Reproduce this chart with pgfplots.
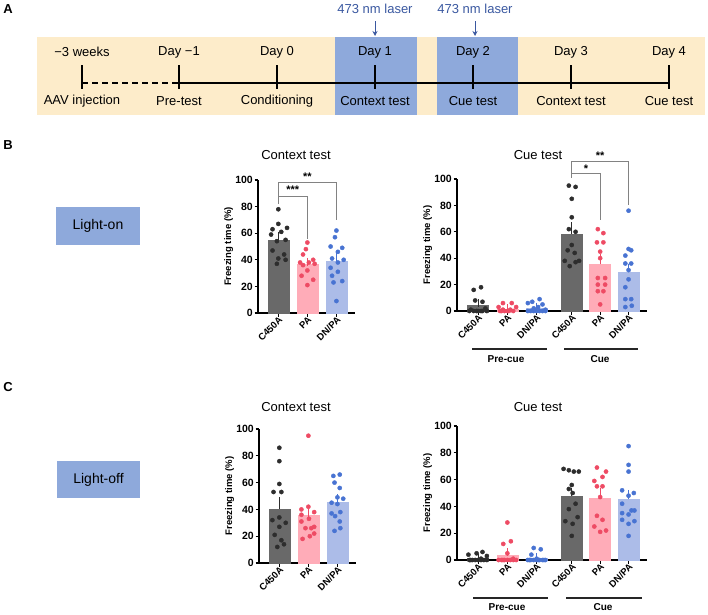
\documentclass[border=0pt]{standalone}
\usepackage{fontspec}
\setmainfont{Liberation Sans}
\usepackage{pgfplots}
\pgfplotsset{compat=1.18}
\usetikzlibrary{arrows.meta}
\definecolor{gbar}{RGB}{105,105,105}
\definecolor{gpt}{RGB}{45,45,45}
\definecolor{pbar}{RGB}{255,172,184}
\definecolor{ppt}{RGB}{238,75,100}
\definecolor{bbar}{RGB}{172,188,232}
\definecolor{bpt}{RGB}{72,115,210}
\definecolor{boxblue}{RGB}{142,169,219}
\definecolor{beige}{RGB}{253,236,202}
\definecolor{laser}{RGB}{58,88,160}
\definecolor{brk}{RGB}{130,130,130}
\pgfplotsset{
 frz/.style={
  scale only axis, anchor=south west,
  axis lines=left, axis line style={-, line width=1.2pt, black},
  ymin=0, ymax=100, ytick={0,20,40,60,80,100},
  tick style={black, line width=1.1pt}, major tick length=3.5pt, tick align=outside,
  yticklabel style={font=\bfseries\fontsize{10.5}{11}\selectfont, inner sep=1.5pt},
  xticklabel style={font=\bfseries\fontsize{9.5}{10}\selectfont, rotate=45, anchor=east, inner sep=0.5pt, yshift=-3pt, xshift=1pt},
  ylabel={Freezing time (\%)},
  ylabel style={font=\bfseries\fontsize{9.5}{10}\selectfont, yshift=-3pt},
  /pgf/number format/assume math mode=true,
  clip=false,
 },
 gb/.style={ybar, bar width=21pt, bar shift=0pt, fill=gbar, draw=gbar,
   error bars/.cd, y dir=plus, y explicit, error bar style={draw=gpt, line width=1pt}, error mark options={draw=gpt, mark size=4pt, line width=1pt}},
 pb/.style={ybar, bar width=21pt, bar shift=0pt, fill=pbar, draw=pbar,
   error bars/.cd, y dir=plus, y explicit, error bar style={draw=ppt, line width=1pt}, error mark options={draw=ppt, mark size=4pt, line width=1pt}},
 bb/.style={ybar, bar width=21pt, bar shift=0pt, fill=bbar, draw=bbar,
   error bars/.cd, y dir=plus, y explicit, error bar style={draw=bpt, line width=1pt}, error mark options={draw=bpt, mark size=4pt, line width=1pt}},
 gp/.style={only marks, mark=*, mark size=2.1pt, color=gpt},
 pp/.style={only marks, mark=*, mark size=2.1pt, color=ppt},
 bp/.style={only marks, mark=*, mark size=2.1pt, color=bpt},
}
\begin{document}
\begin{tikzpicture}
\path[use as bounding box] (0pt,0pt) rectangle (708pt,-614pt);
% ---------- Panel A timeline ----------
\node[font=\bfseries\fontsize{13}{13}\selectfont] at (8pt,-9pt) {A};
\fill[beige] (37pt,-37pt) rectangle (705pt,-115pt);
\fill[boxblue] (335pt,-37pt) rectangle (417pt,-115pt);
\fill[boxblue] (437pt,-37pt) rectangle (518pt,-115pt);
\draw[line width=1.2pt, dash pattern=on 6pt off 4pt] (82pt,-83pt) -- (179pt,-83pt);
\draw[line width=1.2pt] (179pt,-83pt) -- (669pt,-83pt);
\foreach \x in {82,179,277,375,473,571,669} \draw[line width=1.3pt] (\x pt,-65pt) -- (\x pt,-89pt);
\begin{scope}[every node/.style={font=\fontsize{13}{15}\selectfont}]
\node at (82pt,-52pt) {−3 weeks};
\node at (179pt,-52pt) {Day −1};
\node at (277pt,-52pt) {Day 0};
\node at (375pt,-52pt) {Day 1};
\node at (473pt,-52pt) {Day 2};
\node at (571pt,-52pt) {Day 3};
\node at (669pt,-52pt) {Day 4};
\node at (82pt,-101pt) {AAV injection};
\node at (179pt,-101pt) {Pre-test};
\node at (277pt,-101pt) {Conditioning};
\node at (375pt,-101pt) {Context test};
\node at (473pt,-101pt) {Cue test};
\node at (571pt,-101pt) {Context test};
\node at (669pt,-101pt) {Cue test};
\node[text=laser] at (375pt,-9pt) {473 nm laser};
\node[text=laser] at (475pt,-9pt) {473 nm laser};
\end{scope}
\draw[laser, line width=0.9pt, -{Stealth[length=5pt,width=5pt]}] (375pt,-21pt) -- (375pt,-36pt);
\draw[laser, line width=0.9pt, -{Stealth[length=5pt,width=5pt]}] (475pt,-21pt) -- (475pt,-36pt);
% ---------- Row labels ----------
\node[font=\bfseries\fontsize{13}{13}\selectfont] at (8pt,-145pt) {B};
\node[font=\bfseries\fontsize{13}{13}\selectfont] at (8pt,-387pt) {C};
\fill[boxblue] (56pt,-207pt) rectangle (140pt,-245pt);
\node[font=\fontsize{14}{16}\selectfont] at (98pt,-226pt) {Light-on};
\fill[boxblue] (57pt,-461pt) rectangle (140pt,-498pt);
\node[font=\fontsize{14}{16}\selectfont] at (98.5pt,-479.5pt) {Light-off};
% titles
\begin{scope}[every node/.style={font=\fontsize{13}{15}\selectfont}]
\node at (296pt,-155pt) {Context test};
\node at (538pt,-155pt) {Cue test};
\node at (296pt,-407pt) {Context test};
\node at (538pt,-407pt) {Cue test};
\end{scope}
% ---------- B context ----------
\begin{axis}[frz, at={(258pt,-313pt)}, width=97pt, height=133pt, xmin=-0.7, xmax=2.64,
  xtick={0,1,2}, xticklabels={C450A,PA,DN/PA}]
\addplot[gb] coordinates {(0,54.7) +- (0,3)};
\addplot[pb] coordinates {(1,36.5) +- (0,2)};
\addplot[bb] coordinates {(2,39) +- (0,3)};
\addplot[gp] coordinates {(0,78) (0,67) (0.3,64) (-0.2,63) (0.1,61) (-0.25,59) (0.25,55) (-0.05,54) (-0.2,47) (0.2,44) (0,41) (0.25,40) (-0.05,37)};
\addplot[pp] coordinates {(1,53) (0.95,48) (0.85,44) (1.2,40) (0.75,38) (1.05,38) (1.25,37) (0.85,36) (1,32) (0.8,28) (1.2,25) (1,21)};
\addplot[bp] coordinates {(2,62) (1.95,57) (1.8,50) (2.2,49) (2.05,46) (1.85,41) (2.25,40) (2.05,38) (1.8,34) (2.05,31) (1.85,28) (2.2,24) (1.9,23) (2,9)};
\draw[brk, line width=0.9pt] (axis cs:0,82) -- (axis cs:0,98) -- (axis cs:2,98) -- (axis cs:2,70);
\draw[brk, line width=0.9pt] (axis cs:0,88) -- (axis cs:1,88) -- (axis cs:1,56);
\node[anchor=base, font=\bfseries\fontsize{11}{11}\selectfont, inner sep=0pt] at (axis cs:0.5,89.5) {***};
\node[anchor=base, font=\bfseries\fontsize{11}{11}\selectfont, inner sep=0pt] at (axis cs:1,99.5) {**};
\end{axis}
% ---------- B cue ----------
\begin{axis}[frz, at={(457pt,-311pt)}, width=190pt, height=132pt, xmin=0.28, xmax=6.77,
  xtick={1,2,3,4.2,5.17,6.14}, xticklabels={C450A,PA,DN/PA,C450A,PA,DN/PA}]
\addplot[gb] coordinates {(1,4.3) +- (0,1.8)};
\addplot[pb] coordinates {(2,1.2) +- (0,0.8)};
\addplot[bb] coordinates {(3,2.4) +- (0,1)};
\addplot[gb] coordinates {(4.2,58.3) +- (0,6)};
\addplot[pb] coordinates {(5.17,35.4) +- (0,4.5)};
\addplot[bb] coordinates {(6.14,29.3) +- (0,3.5)};
\addplot[gp] coordinates {(1.1,18) (0.85,16) (0.9,8) (1.15,7) (1.25,2) (0.75,1) (0.7,0) (0.85,0) (1,0) (1.15,0) (1.3,0) (0.95,0) (1.1,0)};
\addplot[pp] coordinates {(1.85,6) (2.15,6) (1.7,3) (2.3,3) (1.75,0) (1.9,0) (2.05,0) (2.2,0) (1.85,1) (2.1,1) (2,0) (1.8,0)};
\addplot[bp] coordinates {(3.1,9) (2.85,7) (2.7,6) (3.2,5) (3.05,3) (2.9,2) (3.3,1) (2.7,0) (2.8,0) (2.9,0) (3,0) (3.1,0) (3.2,0) (3.3,0)};
\addplot[gp] coordinates {(4.1,95) (4.33,94) (4.2,85) (4.2,71) (4.1,62) (4.33,60) (4.2,50) (4.06,46) (4.3,44) (3.96,38) (4.45,38) (4.33,37) (4.13,34)};
\addplot[pp] coordinates {(5.09,62) (5.28,59) (5.06,52) (5.28,52) (5.17,45) (5.17,40) (5.09,25) (5.34,25) (5.09,20) (5.34,20) (5.09,15) (5.28,15) (5.17,5)};
\addplot[bp] coordinates {(6.14,76) (6.14,47) (6.23,46) (6.03,42) (6.23,36) (6.03,36) (6.14,31) (6.14,24) (6.03,18) (6.03,9) (6.23,9) (6.25,4) (6.03,3)};
\draw[brk, line width=0.9pt] (axis cs:4.2,101) -- (axis cs:4.2,113.6) -- (axis cs:6.14,113.6) -- (axis cs:6.14,80);
\draw[brk, line width=0.9pt] (axis cs:4.2,104) -- (axis cs:5.17,104) -- (axis cs:5.17,69);
\node[anchor=base, font=\bfseries\fontsize{11}{11}\selectfont, inner sep=0pt] at (axis cs:4.69,105) {*};
\node[anchor=base, font=\bfseries\fontsize{11}{11}\selectfont, inner sep=0pt] at (axis cs:5.17,115) {**};
\end{axis}
% group labels B
\draw[line width=1.4pt, black!85] (472pt,-349pt) -- (547pt,-349pt);
\draw[line width=1.4pt, black!85] (564pt,-349pt) -- (638pt,-349pt);
\node[font=\bfseries\fontsize{10}{10}\selectfont] at (506pt,-359pt) {Pre-cue};
\node[font=\bfseries\fontsize{10}{10}\selectfont] at (600pt,-359pt) {Cue};
% ---------- C context ----------
\begin{axis}[frz, at={(259pt,-563pt)}, width=97pt, height=134pt, xmin=-0.7, xmax=2.64,
  xtick={0,1,2}, xticklabels={C450A,PA,DN/PA}]
\addplot[gb] coordinates {(0,40.3) +- (0,6)};
\addplot[pb] coordinates {(1,35.6) +- (0,2)};
\addplot[bb] coordinates {(2,45.3) +- (0,3)};
\addplot[gp] coordinates {(0,86) (0,76) (0,59) (-0.2,53) (0.07,53) (0,34) (-0.24,32) (0.22,30) (0,27) (-0.16,21) (0.07,17) (0.16,14) (-0.07,12)};
\addplot[pp] coordinates {(1,95) (1,42) (0.76,40) (1.2,38) (0.76,36) (1.02,33) (0.76,31) (1.2,27) (0.9,26) (1.1,26) (1.2,22) (1.05,20) (0.8,18)};
\addplot[bp] coordinates {(2.08,66) (1.86,65) (1.9,60) (2.08,56) (2,49) (2.2,48) (1.8,45) (2,44) (2.1,38) (1.8,37) (1.92,35) (2.08,31) (2.1,26) (1.9,24)};
\end{axis}
% ---------- C cue ----------
\begin{axis}[frz, at={(457pt,-560pt)}, width=190pt, height=134pt, xmin=0.28, xmax=6.77,
  xtick={1,2,3,4.2,5.17,6.14}, xticklabels={C450A,PA,DN/PA,C450A,PA,DN/PA}]
\addplot[gb] coordinates {(1,1.2) +- (0,0.6)};
\addplot[pb] coordinates {(2,3.7) +- (0,2)};
\addplot[bb] coordinates {(3,1.2) +- (0,0.8)};
\addplot[gb] coordinates {(4.2,47.8) +- (0,3.3)};
\addplot[pb] coordinates {(5.17,46) +- (0,4.5)};
\addplot[bb] coordinates {(6.14,45.3) +- (0,3.7)};
\addplot[gp] coordinates {(1.15,6) (0.95,5) (0.67,4) (1.3,3) (1.1,1) (0.7,0) (0.8,0) (0.9,0) (1,0) (1.1,0) (1.2,0) (1.3,0) (0.75,0)};
\addplot[pp] coordinates {(2,28) (2.12,14) (1.86,12) (2,5) (2.2,1) (1.7,0) (1.8,0) (1.9,0) (2,0) (2.1,0) (2.2,0) (2.3,0) (1.85,0)};
\addplot[bp] coordinates {(2.9,9) (3.14,8) (2.82,4) (3,1) (2.7,0) (2.8,0) (2.9,0) (3,0) (3.1,0) (3.2,0) (3.3,0) (2.75,0) (3.25,0) (3.05,0)};
\addplot[gp] coordinates {(3.92,68) (4.1,67) (4.27,66) (4.44,66) (4.2,56) (4.1,53) (4.23,50) (4.33,42) (4.1,38) (4.4,32) (3.98,29) (4.23,27) (4.2,18)};
\addplot[pp] coordinates {(5.06,69) (5.37,66) (5.25,62) (4.97,59) (5.06,55) (5.25,55) (5.17,47) (5.06,33) (5.25,30) (4.97,25) (5.37,22) (5.17,21)};
\addplot[bp] coordinates {(6.14,85) (6.14,71) (6.14,66) (5.92,52) (6.32,50) (6.14,48) (5.92,42) (6.24,37) (6.34,37) (5.92,35) (6.14,34) (5.92,30) (6.34,29) (6.14,27) (6.14,18)};
\end{axis}
% group labels C
\draw[line width=1.4pt, black!85] (473pt,-598pt) -- (548pt,-598pt);
\draw[line width=1.4pt, black!85] (566pt,-598pt) -- (642pt,-598pt);
\node[font=\bfseries\fontsize{10}{10}\selectfont] at (507pt,-607pt) {Pre-cue};
\node[font=\bfseries\fontsize{10}{10}\selectfont] at (603pt,-607pt) {Cue};
\end{tikzpicture}
\end{document}
